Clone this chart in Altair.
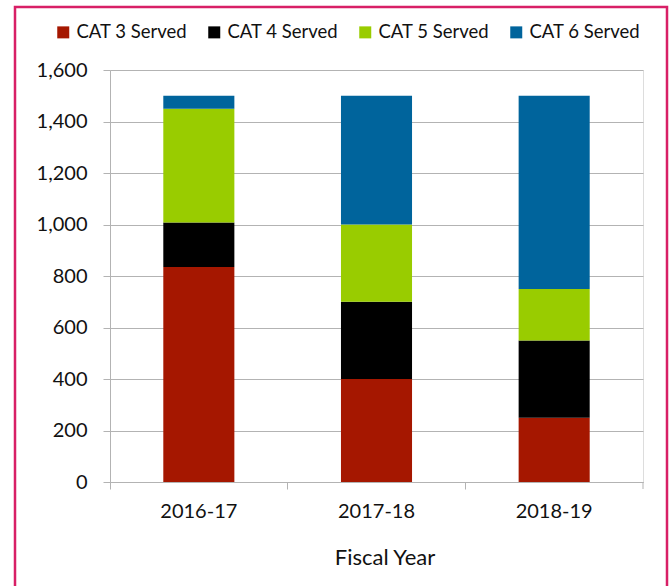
import altair as alt
import pandas as pd

years = ["2016-17", "2017-18", "2018-19"]
categories = ["CAT 3 Served", "CAT 4 Served", "CAT 5 Served", "CAT 6 Served"]
cat3 = [835, 400, 250]
cat4 = [173, 300, 300]
cat5 = [442, 300, 200]
cat6 = [50, 500, 750]
colors = ["#a51700", "#000000", "#99cc00", "#00649c"]

series = [cat3, cat4, cat5, cat6]
rows = []
for ci, (cat, vals) in enumerate(zip(categories, series)):
    for y, v in zip(years, vals):
        rows.append({"year": y, "category": cat, "value": v, "idx": ci})
df = pd.DataFrame(rows)

W, H = 533, 412
FONT = "Lato"
GRID = "#b3b3b3"

bars = alt.Chart(df).mark_bar(width=alt.RelativeBandSize(0.4)).encode(
    x=alt.X("year:N", sort=years, scale=alt.Scale(paddingInner=0, paddingOuter=0),
            axis=alt.Axis(title="Fiscal Year", labelAngle=0, bandPosition=0,
                          tickSize=7, tickColor=GRID,
                          domainColor=GRID, labelFontSize=20, labelPadding=12,
                          labelColor="#111", titleFontSize=22, titleFontWeight="normal",
                          titleColor="#111", titleX=W / 2 + 8, titleY=82,
                          titleBaseline="alphabetic", labelFont=FONT, titleFont=FONT,
                          grid=False)),
    y=alt.Y("value:Q", stack="zero",
            scale=alt.Scale(domain=[0, 1600], nice=False),
            axis=alt.Axis(title=None, values=list(range(0, 1601, 200)), format=",.0f",
                          tickSize=7, tickColor=GRID, domainColor=GRID, gridColor=GRID,
                          labelFontSize=20, labelPadding=16, labelColor="#111",
                          labelFont=FONT)),
    color=alt.Color("category:N", scale=alt.Scale(domain=categories, range=colors),
                    legend=alt.Legend(title=None, orient="none", direction="horizontal",
                                      legendX=-56, legendY=-47, symbolType="square",
                                      symbolSize=144, symbolStrokeWidth=0,
                                      labelFontSize=18.5, labelFont=FONT, labelColor="#111",
                                      labelOffset=4, columnPadding=17, padding=0)),
    order=alt.Order("idx:Q", sort="ascending"),
)

end_tick = alt.Chart(pd.DataFrame({"v": [0]})).mark_rule(color=GRID).encode(
    x=alt.value(W), y=alt.value(H), y2=alt.value(H + 7)
)

border = alt.Chart(pd.DataFrame({"v": [0]})).mark_rect(
    fill=None, stroke="#d81f66", strokeWidth=2.5, clip=False
).encode(
    x=alt.value(-95), x2=alt.value(557), y=alt.value(-63), y2=alt.value(540)
)

chart = alt.layer(bars, end_tick, border).properties(
    width=W, height=H,
    autosize=alt.AutoSizeParams(type="none"),
    padding={"left": 110, "top": 70, "right": 28, "bottom": 104},
).configure_view(stroke=None).configure(background="white")

chart.save("out.html", embed_options={"renderer": "svg", "actions": False})
